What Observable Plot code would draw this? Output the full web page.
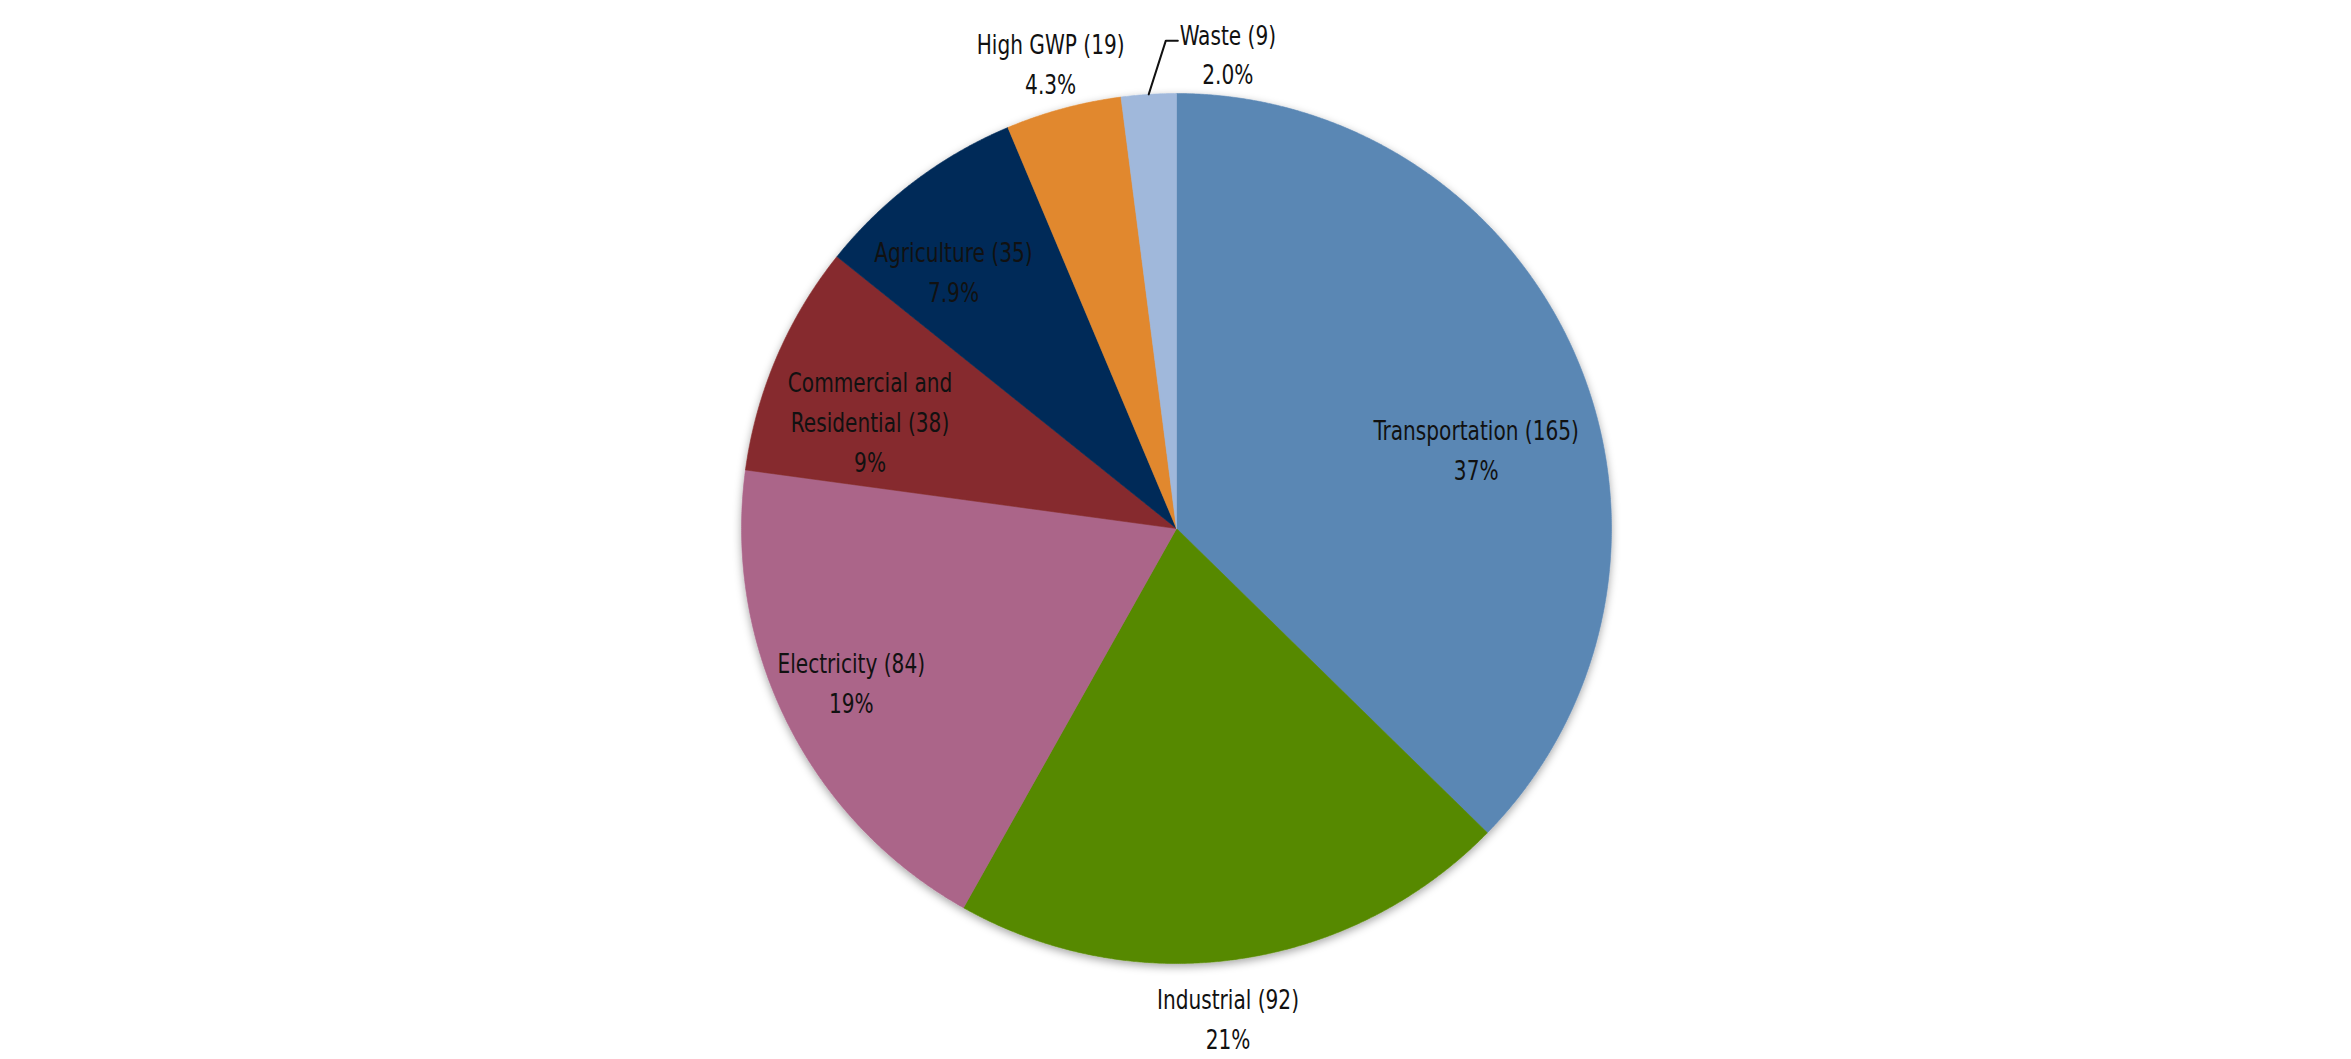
<!DOCTYPE html>
<html>
<head>
<meta charset="utf-8">
<script src="https://cdn.jsdelivr.net/npm/d3@7"></script>
<script src="https://cdn.jsdelivr.net/npm/@observablehq/plot@0.6"></script>
<style>
  html, body { margin: 0; padding: 0; background: #ffffff; }
  #chart { width: 2351px; height: 1059px; overflow: hidden; }
</style>
</head>
<body>
<div id="chart"></div>
<script>
// ---- data ----
const sectors = ["Transportation", "Industrial", "Electricity", "Commercial and Residential", "Agriculture", "High GWP", "Waste"];
const values = [165, 92, 84, 38, 35, 19, 9];
const sectorLabels = ["Transportation (165)", "Industrial (92)", "Electricity (84)", "Commercial and\nResidential (38)", "Agriculture (35)", "High GWP (19)", "Waste (9)"];
const percentLabels = ["37%", "21%", "19%", "9%", "7.9%", "4.3%", "2.0%"];
const colors = ["#5a87b4", "#578900", "#ab6589", "#862c2d", "#002b59", "#e1882f", "#a0b8db"];

// ---- layout (not data) ----
const W = 2351, H = 1059;
const CX = 1176, CY = 528, R = 435;
const labelDist = [0.715, 1.128, 0.825, 0.749, 0.786, 1.113, 1.103];
const labelNudge = [[13, 39], [-18, 2], [-4, -8], [-7, 19], [-17, 14], [0, 0], [82, 2]];
const font = "'DejaVu Sans Condensed', 'Liberation Sans Narrow', 'Arial Narrow', sans-serif";
const condense = 0.86;

// ---- geometry from data ----
const pie = d3.pie().sort(null).value(d => d)(values); // angles clockwise from 12 o'clock
const pt = (a, r) => [CX + r * Math.sin(a), CY - r * Math.cos(a)];

const slicePts = [];
pie.forEach((p, i) => {
  const [x0, y0] = pt(0, 0);
  slicePts.push({name: sectors[i], x: x0, y: y0});
  const n = Math.max(2, Math.ceil((p.endAngle - p.startAngle) / (Math.PI / 720)));
  for (let k = 0; k <= n; k++) {
    const a = p.startAngle + (p.endAngle - p.startAngle) * k / n;
    const [x, y] = pt(a, R);
    slicePts.push({name: sectors[i], x, y});
  }
  slicePts.push({name: sectors[i], x: x0, y: y0});
});

const labels = pie.map((p, i) => {
  const mid = (p.startAngle + p.endAngle) / 2;
  const [x, y] = pt(mid, R * labelDist[i]);
  return {name: sectors[i], text: sectorLabels[i] + "\n" + percentLabels[i],
          x: x + labelNudge[i][0], y: y + labelNudge[i][1], mid};
});

// leader line for the smallest slice (Waste)
const wi = sectors.indexOf("Waste");
const wl = labels[wi];
const [ex, ey] = pt(wl.mid, R);
const leader = [
  {x: ex, y: ey},
  {x: wl.x - 62, y: wl.y - 11},
  {x: wl.x - 50, y: wl.y - 11}
];

const chart = Plot.plot({
  width: W,
  height: H,
  margin: 0,
  x: {domain: [0, W], axis: null},
  y: {domain: [0, H], range: [0, H], axis: null},
  color: {domain: sectors, range: colors},
  style: {background: "#ffffff", fontFamily: font},
  marks: [
    Plot.line(slicePts, {x: "x", y: "y", z: "name", fill: "name", stroke: "name", strokeWidth: 0.6, curve: "linear"}),
    Plot.line(leader, {x: "x", y: "y", stroke: "#111111", strokeWidth: 2}),
    Plot.text(labels, {x: "x", y: "y", text: "text", fontSize: 26, lineHeight: 1.53, fill: "#111111", fontFamily: font, textAnchor: "middle"})
  ]
});

// subtle drop shadow under the pie, as in the reference
const ns = "http://www.w3.org/2000/svg";
const defs = document.createElementNS(ns, "defs");
defs.innerHTML = '<filter id="pieShadow" x="-20%" y="-20%" width="140%" height="140%"><feDropShadow dx="0" dy="3" stdDeviation="4" flood-color="#000" flood-opacity="0.35"/></filter>';
chart.insertBefore(defs, chart.firstChild);
const firstMark = chart.querySelector("g[aria-label='line']");
if (firstMark) firstMark.setAttribute("filter", "url(#pieShadow)");

document.getElementById("chart").appendChild(chart);

// narrow the glyphs to imitate the condensed face of the original
chart.querySelectorAll("g[aria-label='text'] tspan, g[aria-label='text'] text").forEach(el => {
  if (el.tagName === "text" && el.querySelector("tspan")) return;
  const len = el.getComputedTextLength();
  if (len > 0) {
    el.setAttribute("textLength", (len * condense).toFixed(1));
    el.setAttribute("lengthAdjust", "spacingAndGlyphs");
  }
});
</script>
</body>
</html>
